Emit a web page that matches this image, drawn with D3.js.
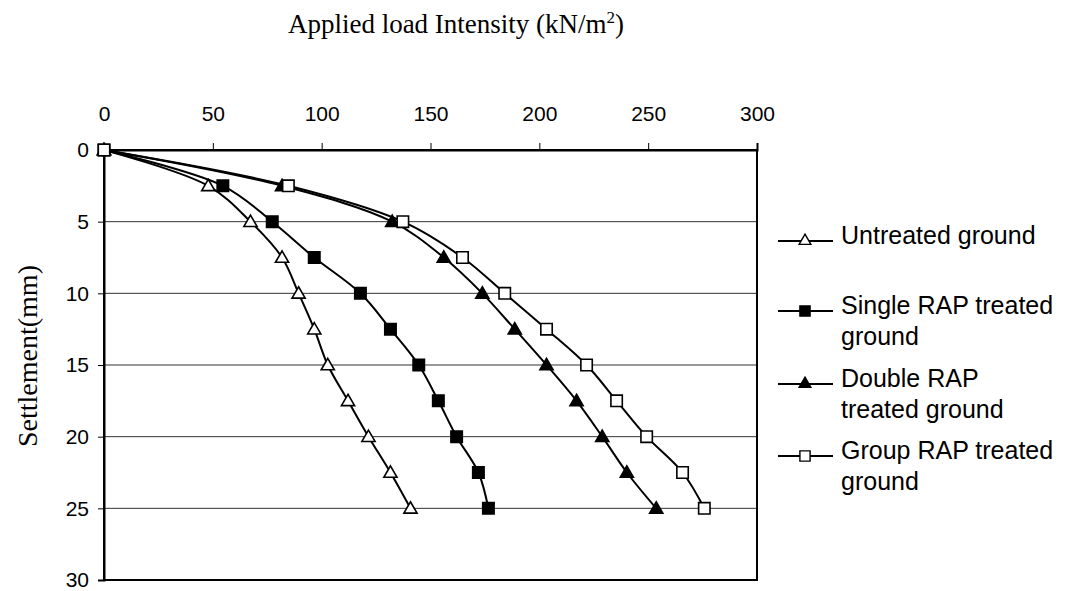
<!DOCTYPE html>
<html>
<head>
<meta charset="utf-8">
<script src="https://cdn.jsdelivr.net/npm/d3@7"></script>
<style>
  html, body { margin: 0; padding: 0; background: #fff; }
  svg { display: block; }
</style>
</head>
<body>
<svg id="chart" width="1065" height="591"></svg>
<script>
// ---- data ----
const settlements = [0, 2.5, 5, 7.5, 10, 12.5, 15, 17.5, 20, 22.5, 25];
const untreated = [0, 47.9, 67.3, 81.8, 89.4, 96.6, 102.8, 112.1, 121.5, 131.6, 140.8];
const singleRAP = [0, 54.6, 77.3, 96.6, 117.8, 131.6, 144.6, 153.6, 162, 172, 176.6];
const doubleRAP = [0, 81.8, 132.4, 156.1, 173.8, 188.7, 203.3, 217.1, 228.9, 240.2, 253.7];
const groupRAP = [0, 84.7, 137.3, 164.7, 184.1, 203.3, 221.7, 235.5, 249.3, 265.8, 275.8];
const seriesNames = [["Untreated ground"], ["Single RAP treated", "ground"], ["Double RAP", "treated ground"], ["Group RAP treated", "ground"]];
const loadTicks = [0, 50, 100, 150, 200, 250, 300];
const settlementTicks = [0, 5, 10, 15, 20, 25, 30];

const series = [
  { values: untreated, marker: "triangle", fill: "#fff" },
  { values: singleRAP, marker: "square", fill: "#000" },
  { values: doubleRAP, marker: "triangle", fill: "#000" },
  { values: groupRAP, marker: "square", fill: "#fff" }
];

const svg = d3.select("#chart");
const x = d3.scaleLinear().domain([0, 300]).range([104, 757]);
const y = d3.scaleLinear().domain([0, 30]).range([150, 580]);

// gridlines
svg.append("g").selectAll("line")
  .data(settlementTicks.filter(d => d > 0 && d < 30))
  .join("line")
  .attr("x1", x(0)).attr("x2", x(300))
  .attr("y1", d => y(d)).attr("y2", d => y(d))
  .attr("stroke", "#333").attr("stroke-width", 1);

// plot border
svg.append("rect")
  .attr("x", x(0)).attr("y", y(0))
  .attr("width", x(300) - x(0)).attr("height", y(30) - y(0))
  .attr("fill", "none").attr("stroke", "#000").attr("stroke-width", 2);

// axes
const xAxis = svg.append("g")
  .attr("transform", `translate(0,${y(0)})`)
  .call(d3.axisTop(x).tickValues(loadTicks).tickSize(7).tickPadding(22).tickFormat(d3.format("d")));
const yAxis = svg.append("g")
  .attr("transform", `translate(${x(0)},0)`)
  .call(d3.axisLeft(y).tickValues(settlementTicks).tickSize(6).tickPadding(9).tickFormat(d3.format("d")));
[xAxis, yAxis].forEach(g => {
  g.select(".domain").attr("stroke", "#000").attr("stroke-width", 2);
  g.selectAll(".tick line").attr("stroke", "#000").attr("stroke-width", 1);
  g.selectAll(".tick text").attr("fill", "#000")
    .style("font-family", "Arial, 'Liberation Sans', sans-serif").style("font-size", "21px");
});
xAxis.selectAll(".tick text").attr("dy", "0");

// symbols
const symSize = { triangle: 75, square: 130 };
function sym(type, scale) {
  return d3.symbol()
    .type(type === "triangle" ? d3.symbolTriangle : d3.symbolSquare)
    .size(symSize[type] * (scale || 1))();
}

const line = d3.line()
  .x(d => x(d[0])).y(d => y(d[1]))
  .curve(d3.curveCatmullRom.alpha(0.5));

series.forEach(s => {
  const pts = s.values.map((v, i) => [v, settlements[i]]);
  const g = svg.append("g");
  g.append("path").attr("d", line(pts))
    .attr("fill", "none").attr("stroke", "#000").attr("stroke-width", 2);
  g.selectAll("path.m").data(pts).join("path")
    .attr("class", "m")
    .attr("d", sym(s.marker))
    .attr("transform", d => `translate(${x(d[0])},${y(d[1]) + (s.marker === "triangle" ? 1 : 0)})`)
    .attr("fill", s.fill).attr("stroke", "#000").attr("stroke-width", 1.6);
});

// legend
const legendBaselines = [244, 314, 387, 459];
const lg = svg.append("g");
series.forEach((s, i) => {
  const by = legendBaselines[i];
  const ly = by - 3;
  lg.append("line").attr("x1", 778).attr("x2", 833).attr("y1", ly).attr("y2", ly)
    .attr("stroke", "#000").attr("stroke-width", 2);
  lg.append("path").attr("d", sym(s.marker, 0.8))
    .attr("transform", `translate(805,${ly})`)
    .attr("fill", s.fill).attr("stroke", "#000").attr("stroke-width", 1.4);
  const t = lg.append("text").attr("x", 841).attr("y", by)
    .style("font-family", "Arial, 'Liberation Sans', sans-serif").style("font-size", "25px").attr("fill", "#000");
  seriesNames[i].forEach((ln, j) => {
    t.append("tspan").attr("x", 841).attr("y", by + j * 31).text(ln);
  });
});

// titles
const title = svg.append("text")
  .attr("x", 456).attr("y", 33).attr("text-anchor", "middle")
  .style("font-family", "'Times New Roman', 'Liberation Serif', serif").style("font-size", "27px").attr("fill", "#000");
title.append("tspan").text("Applied load Intensity (kN/m");
title.append("tspan").attr("dy", "-10").style("font-size", "17px").text("2");
title.append("tspan").attr("dy", "10").text(")");

svg.append("text")
  .attr("transform", "translate(37,356) rotate(-90)")
  .attr("text-anchor", "middle")
  .style("font-family", "'Times New Roman', 'Liberation Serif', serif").style("font-size", "28px").attr("fill", "#000")
  .text("Settlement(mm)");
</script>
</body>
</html>
